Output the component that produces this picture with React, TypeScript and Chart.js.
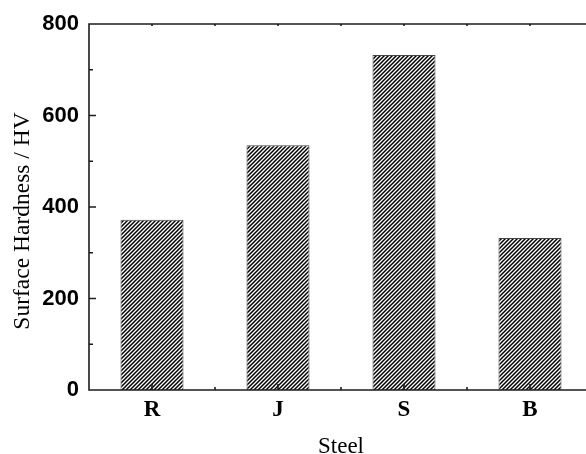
import { useEffect, useRef } from "react";
import { Chart, registerables } from "chart.js";

Chart.register(...registerables);

const categories = ["R", "J", "S", "B"];
const hardness = [372, 535, 732, 332];
const yMajorTicks = [0, 200, 400, 600, 800];
const yMinorTicks = [100, 300, 500, 700];
const xTitle = "Steel";
const yTitle = "Surface Hardness / HV";

function makeHatch(ctx: CanvasRenderingContext2D) {
  const c = document.createElement("canvas");
  c.width = 4;
  c.height = 4;
  const g = c.getContext("2d")!;
  g.fillStyle = "#fff";
  g.fillRect(0, 0, 4, 4);
  g.strokeStyle = "#000";
  g.lineWidth = 1.5;
  g.beginPath();
  g.moveTo(-1, 1);
  g.lineTo(1, -1);
  g.moveTo(0, 4);
  g.lineTo(4, 0);
  g.moveTo(3, 5);
  g.lineTo(5, 3);
  g.stroke();
  return ctx.createPattern(c, "repeat")!;
}

const framePlugin = {
  id: "frame",
  afterDatasetsDraw(chart: any) {
    const { ctx, chartArea: a, scales } = chart;
    const ys = scales.y;
    const xs = scales.x;
    ctx.save();
    ctx.strokeStyle = "#1c1c1c";
    ctx.lineWidth = 1.6;
    ctx.beginPath();
    ctx.moveTo(a.left, a.top);
    ctx.lineTo(a.left, a.bottom);
    ctx.lineTo(a.right, a.bottom);
    ctx.lineTo(a.right, a.top);
    ctx.closePath();
    yMajorTicks.forEach((v) => {
      const p = ys.getPixelForValue(v);
      ctx.moveTo(a.left, p);
      ctx.lineTo(a.left + 7, p);
      ctx.moveTo(a.right, p);
      ctx.lineTo(a.right - 7, p);
    });
    yMinorTicks.forEach((v) => {
      const p = ys.getPixelForValue(v);
      ctx.moveTo(a.left, p);
      ctx.lineTo(a.left + 4, p);
      ctx.moveTo(a.right, p);
      ctx.lineTo(a.right - 4, p);
    });
    categories.forEach((_, i) => {
      const p = xs.getPixelForValue(i);
      ctx.moveTo(p, a.bottom);
      ctx.lineTo(p, a.bottom - 6);
      ctx.moveTo(p, a.top);
      ctx.lineTo(p, a.top + 2);
      if (i < categories.length - 1) {
        const q = (p + xs.getPixelForValue(i + 1)) / 2;
        ctx.moveTo(q, a.bottom);
        ctx.lineTo(q, a.bottom - 3);
        ctx.moveTo(q, a.top);
        ctx.lineTo(q, a.top + 2);
      }
    });
    ctx.stroke();

    ctx.fillStyle = "#000";
    ctx.font = '23px "Liberation Serif", "Times New Roman", serif';
    ctx.textAlign = "center";
    ctx.textBaseline = "alphabetic";
    ctx.fillText(xTitle, (a.left + a.right) / 2, 453);
    ctx.save();
    ctx.translate(29, 221);
    ctx.rotate(-Math.PI / 2);
    ctx.font = '23.5px "Liberation Serif", "Times New Roman", serif';
    ctx.fillText(yTitle, 0, 0);
    ctx.restore();
    ctx.restore();
  },
};

export default function App() {
  const ref = useRef<HTMLCanvasElement>(null);

  useEffect(() => {
    const canvas = ref.current!;
    const ctx = canvas.getContext("2d")!;
    const hatch = makeHatch(ctx);
    const chart = new Chart(canvas, {
      type: "bar",
      data: {
        labels: categories,
        datasets: [
          {
            data: hardness,
            backgroundColor: hatch,
            borderColor: "#444",
            borderWidth: 1,
            categoryPercentage: 1,
            barPercentage: 0.5,
          },
        ],
      },
      options: {
        responsive: false,
        animation: false,
        layout: { padding: { top: 24, right: 7, left: 0, bottom: 0 } },
        plugins: { legend: { display: false }, tooltip: { enabled: false } },
        scales: {
          x: {
            grid: { display: false, drawTicks: false },
            border: { display: false },
            ticks: {
              color: "#000",
              padding: 6,
              font: { family: '"Liberation Serif", "Times New Roman", serif', size: 23, weight: "bold" },
            },
            afterFit: (s: any) => {
              s.height = 64;
            },
          },
          y: {
            min: 0,
            max: 800,
            grid: { display: false, drawTicks: false },
            border: { display: false },
            ticks: {
              stepSize: 200,
              color: "#000",
              padding: 10,
              font: { family: '"Liberation Sans", Arial, sans-serif', size: 22, weight: "bold" },
            },
            afterFit: (s: any) => {
              s.width = 89;
            },
          },
        },
      },
      plugins: [framePlugin],
    });
    return () => chart.destroy();
  }, []);

  return (
    <div
      style={{
        position: "absolute",
        left: 0,
        top: 0,
        width: 586,
        height: 454,
        overflow: "hidden",
        background: "#fff",
      }}
    >
      <canvas ref={ref} width={600} height={454} style={{ display: "block", width: 600, height: 454 }} />
    </div>
  );
}
